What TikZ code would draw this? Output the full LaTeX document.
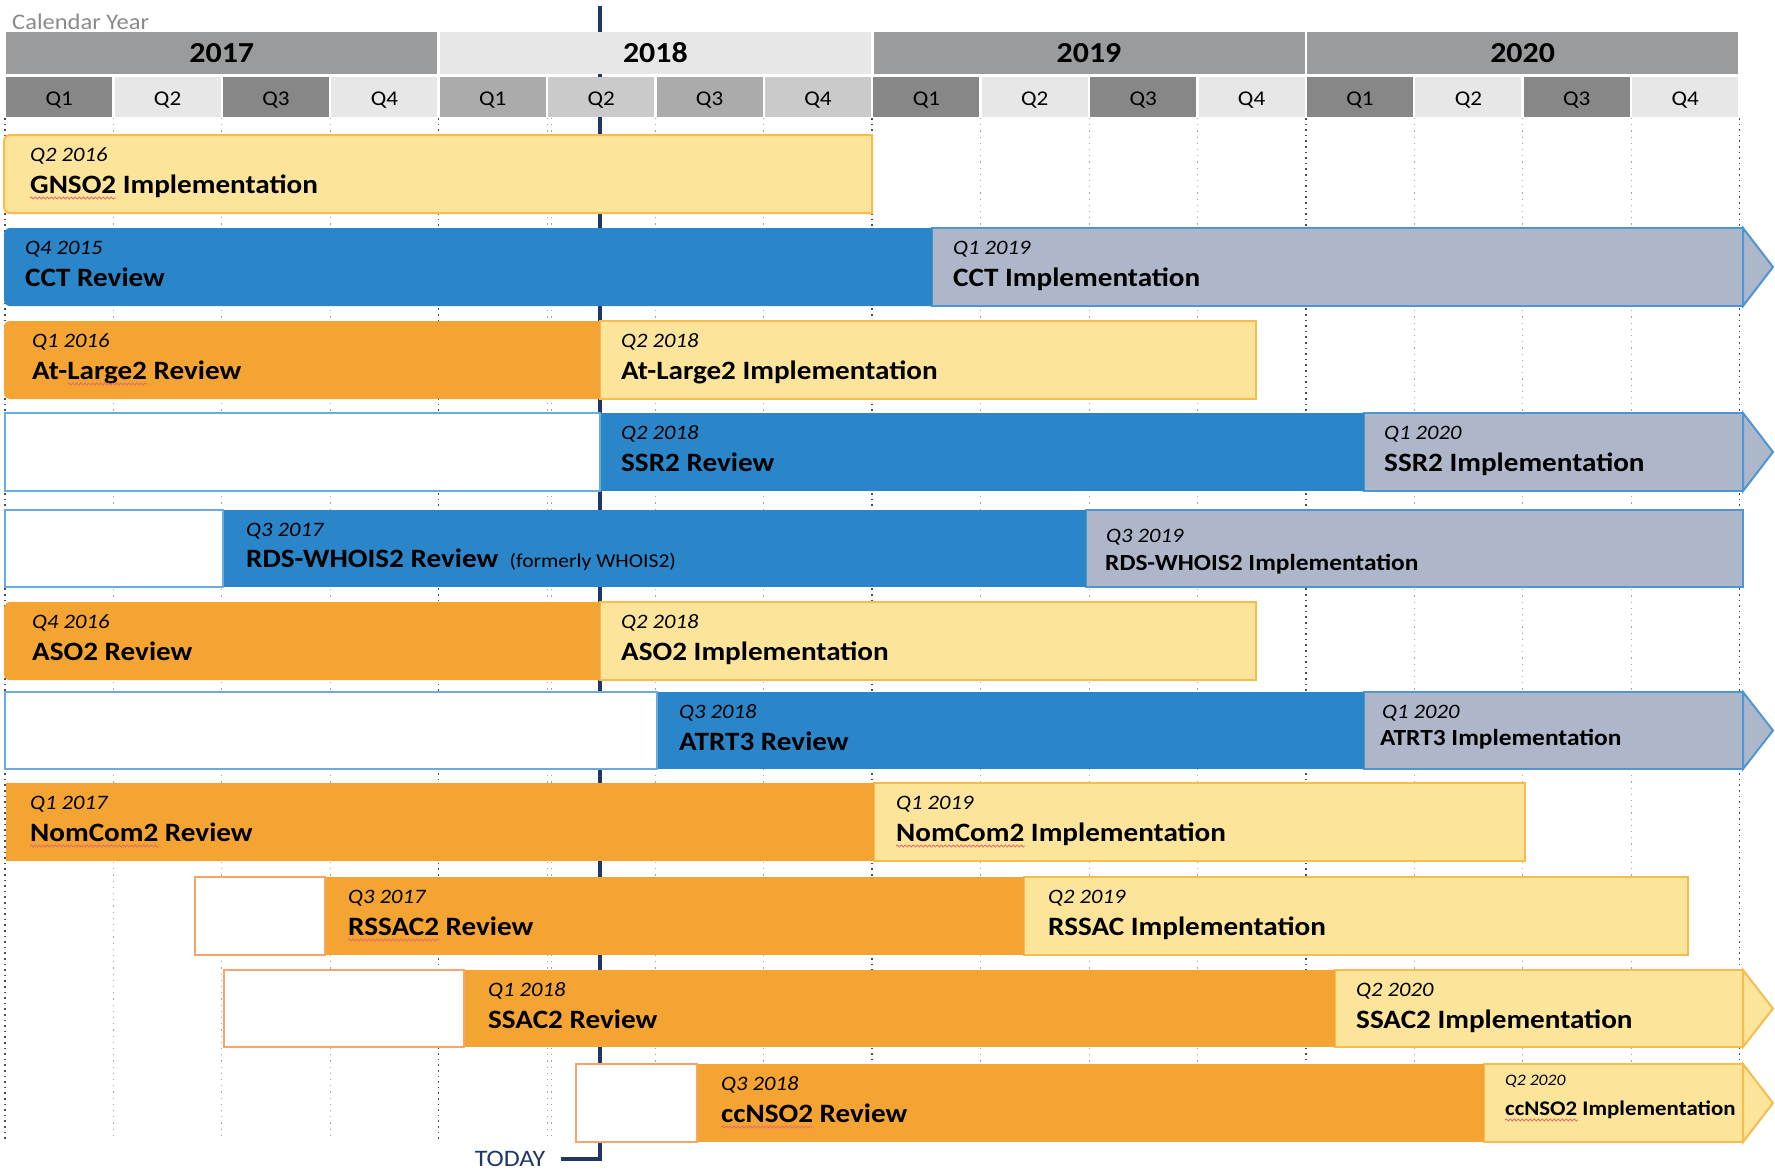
\documentclass[tikz,border=0pt]{standalone}
\usepackage{fontspec}
\setmainfont[FakeStretch=1.1]{Carlito}
\usetikzlibrary{decorations.pathmorphing}
\definecolor{ora}{HTML}{F3A432}
\definecolor{yel}{HTML}{FDE49B}
\definecolor{yelb}{HTML}{F6BC4E}
\definecolor{blu}{HTML}{2A86C9}
\definecolor{blub}{HTML}{4E96D3}
\definecolor{gry}{HTML}{ADB7C9}
\definecolor{wbb}{HTML}{6AAADD}
\definecolor{wob}{HTML}{F5A46C}
\definecolor{hdark}{HTML}{9A9B9D}
\definecolor{hlight}{HTML}{E7E7E7}
\definecolor{qdark}{HTML}{878787}
\definecolor{qmid}{HTML}{ABABAB}
\definecolor{qmid2}{HTML}{CACACA}
\definecolor{todayc}{HTML}{1F3864}
\definecolor{calc}{HTML}{8A8A8A}
\definecolor{squigc}{HTML}{E2706A}
\newcommand\lab[5]{%
  \node[datel] (#1d) at (#2,#3+26) {#4};
  \node[namel] (#1n) at (#2,#3+58) {#5};}
% squiggle under a word placed at a given base-west point
\newcommand\wavy[4]{%
  \node[#2, anchor=base west] (#1) at (#3) {\phantom{#4}};
  \draw[squigline] ([yshift=-5pt]#1.base west) -- ([yshift=-5pt]#1.base east);}
\begin{document}
\begin{tikzpicture}[x=1pt,y=-1pt,
  yearbox/.style={inner sep=0, minimum width=431, minimum height=42, font=\fontsize{29}{32}\selectfont\bfseries},
  qbox/.style={inner sep=0, minimum width=106, minimum height=40, text height=19pt, text depth=3pt, font=\fontsize{21}{24}\selectfont},
  qgrid/.style={draw=black!35, line width=1, dash pattern=on 1.2pt off 5pt},
  ygrid/.style={draw=black!70, line width=1.6, dash pattern=on 1.6pt off 4pt},
  todayline/.style={draw=todayc, line width=4},
  orabar/.style={fill=ora},
  yelbar/.style={fill=yel, draw=yelb, line width=2},
  blubar/.style={fill=blu},
  grybar/.style={fill=gry, draw=blub, line width=2},
  wbbox/.style={fill=white, draw=wbb, line width=2},
  wobox/.style={fill=white, draw=wob, line width=2},
  squigline/.style={draw=squigc, line width=0.8, decorate, decoration={snake, segment length=4pt, amplitude=1.1pt}},
  datel/.style={anchor=base west, inner sep=0, font=\fontsize{20.5}{23}\selectfont\itshape},
  namel/.style={anchor=base west, inner sep=0, font=\fontsize{26.5}{30}\selectfont\bfseries},
  namesm/.style={anchor=base west, inner sep=0, font=\fontsize{23.1}{26}\selectfont\bfseries},
  namexs/.style={anchor=base west, inner sep=0, font=\fontsize{20.8}{23}\selectfont\bfseries},
  datexs/.style={anchor=base west, inner sep=0, font=\fontsize{16}{18}\selectfont\itshape},
  ]
\useasboundingbox (0,0) rectangle (1775,1171);

% grid
\foreach \t in {1,2,3,5,6,7,9,10,11,13,14,15}
  \draw[qgrid] ({5+108.4*\t},118) -- ({5+108.4*\t},1140);
\draw[qgrid] (551,118) -- (551,1140);
\foreach \t in {0,4,8,12,16}
  \draw[ygrid] ({5+108.4*\t},118) -- ({5+108.4*\t},1140);

% calendar year
\node[anchor=base west, inner sep=0, text=calc, font=\fontsize{22.3}{25}\selectfont] (cal) at (12,29) {Calendar Year};

% today line
\node[inner sep=0, text=todayc, font=\fontsize{23.6}{26}\selectfont] (today) at (510,1159) {TODAY};
\coordinate (todaytop) at (600,6);
\draw[todayline] (todaytop) |- ([xshift=16]today.east);

% header
\node[yearbox, fill=hdark] (y2017) at (221.8,53) {2017};
\node[yearbox, fill=hlight] (y2018) at (655.4,53) {2018};
\node[yearbox, fill=hdark] (y2019) at (1089,53) {2019};
\node[yearbox, fill=hdark] (y2020) at (1522.6,53) {2020};
\foreach \t/\c/\q in {0/qdark/Q1,1/hlight/Q2,2/qdark/Q3,3/hlight/Q4,
  4/qmid/Q1,5/qmid2/Q2,6/qmid/Q3,7/qmid2/Q4,
  8/qdark/Q1,9/hlight/Q2,10/qdark/Q3,11/hlight/Q4,
  12/qdark/Q1,13/hlight/Q2,14/qdark/Q3,15/hlight/Q4}
  \node[qbox, fill=\c] (q\t) at ({59.2+108.4*\t},97) {\q};

% Row 1 GNSO2
\draw[yelbar] (872,135) -- (10,135) arc[start angle=270,end angle=180,radius=6] -- (4,207) arc[start angle=180,end angle=90,radius=6] -- (872,213) -- cycle;
\lab{r1}{30}{135}{Q2 2016}{GNSO2 Implementation}
\wavy{w1}{namel}{r1n.base west}{GNSO2}

% Row 2 CCT
\draw[grybar] (932,228) rectangle (1743,306);
\draw[grybar] (1743,228) -- (1773,267) -- (1743,306) -- cycle;
\fill[blubar] (932,228) -- (10,228) arc[start angle=270,end angle=180,radius=6] -- (4,300) arc[start angle=180,end angle=90,radius=6] -- (932,306) -- cycle;
\lab{r2a}{25}{228}{Q4 2015}{CCT Review}
\lab{r2b}{953}{228}{Q1 2019}{CCT Implementation}

% Row 3 At-Large2
\draw[yelbar] (600,321) rectangle (1256,399);
\fill[orabar] (600,321) -- (10,321) arc[start angle=270,end angle=180,radius=6] -- (4,393) arc[start angle=180,end angle=90,radius=6] -- (600,399) -- cycle;
\lab{r3a}{32}{321}{Q1 2016}{At-Large2 Review}
\node[namel] (w3p) at (r3an.base west) {\phantom{At-}};
\wavy{w3}{namel}{w3p.base east}{Large2}
\lab{r3b}{621}{321}{Q2 2018}{At-Large2 Implementation}

% Row 4 SSR2
\draw[grybar] (1364,413) rectangle (1743,491);
\draw[grybar] (1743,413) -- (1773,452) -- (1743,491) -- cycle;
\fill[blubar] (600,413) rectangle (1364,491);
\draw[wbbox] (5,413) rectangle (600,491);
\lab{r4a}{621}{413}{Q2 2018}{SSR2 Review}
\lab{r4b}{1384}{413}{Q1 2020}{SSR2 Implementation}

% Row 5 RDS-WHOIS2
\draw[grybar] (1086,510) rectangle (1743,587);
\fill[blubar] (223,510) rectangle (1086,587);
\draw[wbbox] (5,510) rectangle (223,587);
\node[datel] (r5ad) at (246,536) {Q3 2017};
\node[namel] (r5an) at (246,567) {RDS-WHOIS2 Review};
\node[anchor=base west, inner sep=0, font=\fontsize{19.6}{22}\selectfont] (r5f) at ([xshift=11]r5an.base east) {(formerly WHOIS2)};
\node[datel] (r5bd) at (1106,542) {Q3 2019};
\node[namesm] (r5bn) at (1105,570) {RDS-WHOIS2 Implementation};

% Row 6 ASO2
\draw[yelbar] (600,602) rectangle (1256,680);
\fill[orabar] (600,602) -- (10,602) arc[start angle=270,end angle=180,radius=6] -- (4,674) arc[start angle=180,end angle=90,radius=6] -- (600,680) -- cycle;
\lab{r6a}{32}{602}{Q4 2016}{ASO2 Review}
\lab{r6b}{621}{602}{Q2 2018}{ASO2 Implementation}

% Row 7 ATRT3
\draw[grybar] (1364,692) rectangle (1743,769);
\draw[grybar] (1743,692) -- (1773,730.5) -- (1743,769) -- cycle;
\fill[blubar] (657,692) rectangle (1364,769);
\draw[wbbox] (5,692) rectangle (657,769);
\lab{r7a}{679}{692}{Q3 2018}{ATRT3 Review}
\node[datel] (r7bd) at (1382,718) {Q1 2020};
\node[namesm] (r7bn) at (1380,745) {ATRT3 Implementation};

% Row 8 NomCom2
\draw[yelbar] (874,783) rectangle (1525,861);
\fill[orabar] (6,783) rectangle (874,861);
\lab{r8a}{30}{783}{Q1 2017}{NomCom2 Review}
\wavy{w8a}{namel}{r8an.base west}{NomCom2}
\lab{r8b}{896}{783}{Q1 2019}{NomCom2 Implementation}
\wavy{w8b}{namel}{r8bn.base west}{NomCom2}

% Row 9 RSSAC2
\draw[yelbar] (1024,877) rectangle (1688,955);
\fill[orabar] (325,877) rectangle (1024,955);
\draw[wobox] (195,877) rectangle (325,955);
\lab{r9a}{348}{877}{Q3 2017}{RSSAC2 Review}
\wavy{w9}{namel}{r9an.base west}{RSSAC2}
\lab{r9b}{1048}{877}{Q2 2019}{RSSAC Implementation}

% Row 10 SSAC2
\draw[yelbar] (1335,970) rectangle (1743,1047);
\draw[yelbar] (1743,970) -- (1773,1008.5) -- (1743,1047) -- cycle;
\fill[orabar] (464,970) rectangle (1335,1047);
\draw[wobox] (224,970) rectangle (464,1047);
\lab{r10a}{488}{970}{Q1 2018}{SSAC2 Review}
\lab{r10b}{1356}{970}{Q2 2020}{SSAC2 Implementation}

% Row 11 ccNSO2
\draw[yelbar] (1484,1064) rectangle (1743,1142);
\draw[yelbar] (1743,1064) -- (1773,1103) -- (1743,1142) -- cycle;
\fill[orabar] (697,1064) rectangle (1484,1142);
\draw[wobox] (576,1064) rectangle (697,1142);
\lab{r11a}{721}{1064}{Q3 2018}{ccNSO2 Review}
\wavy{w11a}{namel}{r11an.base west}{ccNSO2}
\node[datexs] (r11bd) at (1505,1085) {Q2 2020};
\node[namexs] (r11bn) at (1505,1115) {ccNSO2 Implementation};
\wavy{w11b}{namexs}{r11bn.base west}{ccNSO2}
\end{tikzpicture}
\end{document}
